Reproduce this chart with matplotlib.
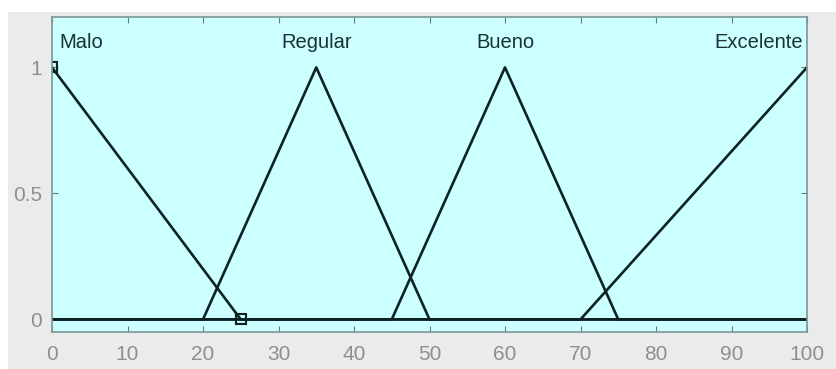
import matplotlib.pyplot as plt
import matplotlib.patches as patches
import numpy as np

plt.rcParams['font.family'] = ['Liberation Sans', 'DejaVu Sans']

# membership function break points (x, y)
names = ['Malo', 'Regular', 'Bueno', 'Excelente']
mf_x = [[0, 0, 25, 100],
        [0, 20, 35, 50, 100],
        [0, 45, 60, 75, 100],
        [0, 70, 100, 100]]
mf_y = [[1, 1, 0, 0],
        [0, 0, 1, 0, 0],
        [0, 0, 1, 0, 0],
        [0, 0, 1, 1]]
label_x = [1, 35, 60, 99.5]
label_ha = ['left', 'center', 'center', 'right']
# selected MF handles
sel_x = [0, 25]
sel_y = [1, 0]

fig = plt.figure(figsize=(8.36, 3.69), dpi=100, facecolor='white')
# grey window background (white strip on top and left like the screenshot)
fig.patches.append(patches.Rectangle((8 / 836, 0), 1, 1 - 12 / 369,
                                     transform=fig.transFigure,
                                     facecolor='#ebebeb', edgecolor='none', zorder=-1))

ax = fig.add_axes([52 / 836, 37 / 369, 755 / 836, 315 / 369])
ax.set_facecolor('#ccffff')

line_col = '#0d2222'
for i in range(len(names)):
    ax.plot(mf_x[i], mf_y[i], color=line_col, linewidth=1.9)
    ax.text(label_x[i], 1.1, names[i], ha=label_ha[i], va='center',
            fontsize=14.5, color='#163232')

ax.plot(sel_x, sel_y, linestyle='none', marker='s', markersize=7,
        markerfacecolor='none', markeredgecolor=line_col, markeredgewidth=1.5)

ax.set_xlim(0, 100)
ax.set_ylim(-0.05, 1.2)
ax.set_xticks(np.arange(0, 101, 10))
ax.set_yticks([0, 0.5, 1])
ax.set_yticklabels(['0', '0.5', '1'])
ax.tick_params(direction='in', top=True, right=True, length=4,
               colors='#5f7f7f', labelcolor='#8f8f8f', labelsize=15)
ax.tick_params(axis='x', pad=9)
ax.tick_params(axis='y', pad=7)
for s in ax.spines.values():
    s.set_color('#7a9696')
    s.set_linewidth(1.2)

plt.savefig('out.png', dpi=100, facecolor=fig.get_facecolor())
